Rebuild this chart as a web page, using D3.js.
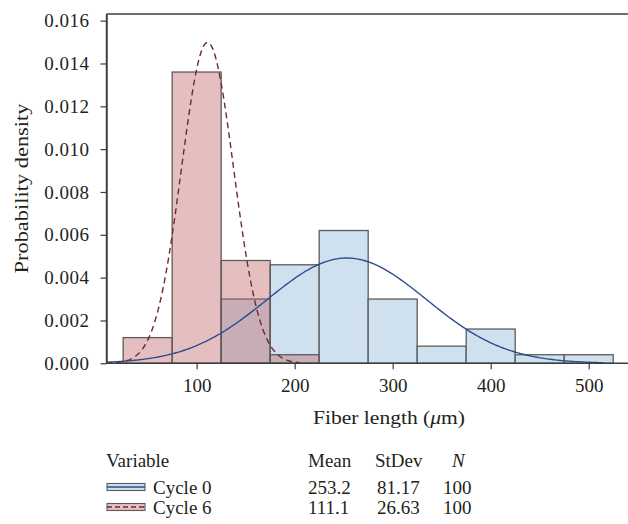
<!DOCTYPE html>
<html><head><meta charset="utf-8">
<script src="https://cdn.jsdelivr.net/npm/d3@7"></script>
<style>body{margin:0;background:#fff}svg{display:block}text{font-family:"Liberation Serif","Times New Roman",serif;fill:#231f20}</style>
</head><body>
<script>
// Data
const binEdges = [25, 75, 125, 175, 225, 275, 325, 375, 425, 475, 525];
const cycle0Density = [0, 0, 0.0030, 0.0046, 0.0062, 0.0030, 0.0008, 0.0016, 0.0004, 0.0004];
const cycle6Density = [0.0012, 0.0136, 0.0048, 0.0004, 0, 0, 0, 0, 0, 0];
const seriesNames = ["Cycle 0", "Cycle 6"];
const means = [253.2, 111.1];
const stdevs = [81.17, 26.63];
const counts = [100, 100];
const fitRanges = [[8, 515], [8, 205]];
const xTicks = [100, 200, 300, 400, 500];
const yTicks = [0, 0.002, 0.004, 0.006, 0.008, 0.010, 0.012, 0.014, 0.016];

const W = 628, H = 524;
const svg = d3.select("body").append("svg").attr("width", W).attr("height", H);

const x = d3.scaleLinear().domain([8, 585]).range([106.5, 672]);
const y = d3.scaleLinear().domain([0, 0.01631]).range([363.3, 14]);

const blueFill = "#cfe0ee", pinkFill = "rgb(190,95,98)", pinkOpacity = 0.4;
const edge = "#5c5c5c";

const bins0 = cycle0Density.map((d, i) => ({x0: binEdges[i], x1: binEdges[i+1], d})).filter(b => b.d > 0);
const bins6 = cycle6Density.map((d, i) => ({x0: binEdges[i], x1: binEdges[i+1], d})).filter(b => b.d > 0);

svg.append("g").selectAll("rect").data(bins0).join("rect")
  .attr("x", b => x(b.x0)).attr("width", b => x(b.x1) - x(b.x0))
  .attr("y", b => y(b.d)).attr("height", b => y(0) - y(b.d))
  .attr("fill", blueFill).attr("stroke", edge).attr("stroke-width", 1.3);

svg.append("g").selectAll("rect").data(bins6).join("rect")
  .attr("x", b => x(b.x0)).attr("width", b => x(b.x1) - x(b.x0))
  .attr("y", b => y(b.d)).attr("height", b => y(0) - y(b.d))
  .attr("fill", pinkFill).attr("fill-opacity", pinkOpacity)
  .attr("stroke", edge).attr("stroke-width", 1.3);

// Normal fit curves (from the legend's mean and standard deviation)
function pdf(v, m, s) { return Math.exp(-0.5 * ((v - m) / s) ** 2) / (s * Math.sqrt(2 * Math.PI)); }
const line = d3.line().x(p => x(p[0])).y(p => y(p[1]));
function curvePts(k) {
  const [a, b] = fitRanges[k];
  return d3.range(0, 301).map(i => { const v = a + (b - a) * i / 300; return [v, pdf(v, means[k], stdevs[k])]; });
}
svg.append("path").attr("d", line(curvePts(0))).attr("fill", "none")
  .attr("stroke", "#2c4d8e").attr("stroke-width", 1.4);
svg.append("path").attr("d", line(curvePts(1))).attr("fill", "none")
  .attr("stroke", "#6b2a33").attr("stroke-width", 1.4).attr("stroke-dasharray", "6,4");

// Frame
const frameCol = "#3d3d3d";
svg.append("line").attr("x1", x.range()[0]).attr("x2", W).attr("y1", y.range()[1]).attr("y2", y.range()[1])
  .attr("stroke", frameCol).attr("stroke-width", 1.4);
svg.append("line").attr("x1", x.range()[0]).attr("x2", x.range()[0]).attr("y1", y.range()[1]).attr("y2", y(0))
  .attr("stroke", frameCol).attr("stroke-width", 1.4);

// Axes
const xAxis = d3.axisBottom(x).tickValues(xTicks).tickSize(6).tickPadding(9).tickSizeOuter(0);
const gx = svg.append("g").attr("transform", `translate(0,${y(0)})`).call(xAxis);
const yAxis = d3.axisLeft(y).tickValues(yTicks).tickSize(6).tickPadding(11).tickFormat(d3.format(".3f")).tickSizeOuter(0);
const gy = svg.append("g").attr("transform", `translate(${x.range()[0]},0)`).call(yAxis);
[gx, gy].forEach(g => {
  g.select(".domain").attr("stroke", frameCol).attr("stroke-width", 1.4);
  g.selectAll(".tick line").attr("stroke", frameCol).attr("stroke-width", 1.2);
  g.selectAll(".tick text").style("font-size", "19px").attr("fill", "#231f20");
});
gy.selectAll(".tick text").style("letter-spacing", "0.5px");
gx.select(".domain").attr("d", `M${x.range()[0]},0H${W}`);

// Axis titles
const xt = svg.append("text").attr("x", 389).attr("y", 424).attr("text-anchor", "middle")
  .style("font-size", "19px").attr("textLength", 152).attr("lengthAdjust", "spacingAndGlyphs");
xt.append("tspan").text("Fiber length (");
xt.append("tspan").attr("font-style", "italic").text("μ");
xt.append("tspan").text("m)");
svg.append("text").attr("transform", "translate(28,188.5) rotate(-90)").attr("text-anchor", "middle")
  .style("font-size", "19px").attr("textLength", 170).attr("lengthAdjust", "spacingAndGlyphs")
  .text("Probability density");

// Legend
const lg = svg.append("g").style("font-size", "19px");
lg.append("text").attr("x", 106).attr("y", 467).text("Variable");
lg.append("text").attr("x", 308).attr("y", 467).text("Mean");
lg.append("text").attr("x", 375).attr("y", 467).text("StDev");
lg.append("text").attr("x", 452).attr("y", 467).attr("font-style", "italic").text("N");
const rowY = [494, 514];
const swFill = [blueFill, pinkFill], swOp = [1, pinkOpacity];
const swLine = ["#2c4d8e", "#6b2a33"], swDash = [null, "5,3"];
seriesNames.forEach((name, i) => {
  const cy = rowY[i] - 7;
  lg.append("rect").attr("x", 107).attr("y", cy - 3.5).attr("width", 38).attr("height", 7)
    .attr("fill", swFill[i]).attr("fill-opacity", swOp[i]).attr("stroke", edge).attr("stroke-width", 1.1);
  lg.append("line").attr("x1", 107).attr("x2", 145).attr("y1", cy).attr("y2", cy)
    .attr("stroke", swLine[i]).attr("stroke-width", 1.4).attr("stroke-dasharray", swDash[i]);
  lg.append("text").attr("x", 153).attr("y", rowY[i]).text(name);
  lg.append("text").attr("x", 308).attr("y", rowY[i]).text(means[i].toFixed(1));
  lg.append("text").attr("x", 377).attr("y", rowY[i]).text(stdevs[i].toFixed(2));
  lg.append("text").attr("x", 443).attr("y", rowY[i]).text(counts[i]);
});
</script>
</body></html>
